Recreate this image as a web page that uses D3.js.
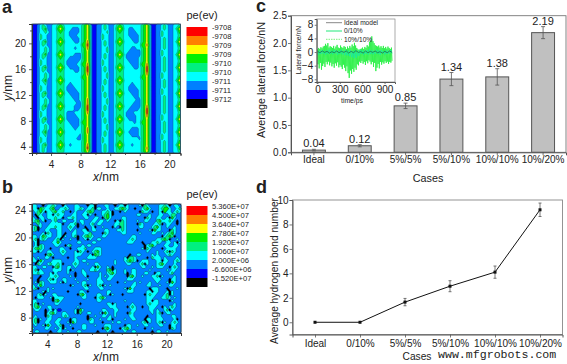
<!DOCTYPE html>
<html>
<head>
<meta charset="utf-8">
<script src="https://cdn.jsdelivr.net/npm/d3@7"></script>
<style>
html, body { margin: 0; padding: 0; background: #fff; }
svg { display: block; }
text { font-family: "Liberation Sans", Arial, sans-serif; fill: #222; }
</style>
</head>
<body>
<script>
const width = 567,
    height = 364;

// contour levels per grid cell, top row first: 0 black ... 8 red
const gridA = [
    "1123432233454 333333345 641122343223454 333333345 64112234322334",
    "1123452233565 333222345 641122343223565 332233345 64112234322346",
    "1123343233454 332222345 641122334223454 332223345 64112243322335",
    "1124332233444 332223345 641122433223444 332222345 64112243322334",
    "1124332233454 333222345 641122433223454 333222345 64112234322335",
    "1123452233565 333322345 741122343223565 333322345 64112234322346",
    "1123432233454 333333355 841122343223454 333333355 74112234322335",
    "1123343233444 333323345 741122334223444 333223345 64112234322334",
    "1123343233454 333333345 641122334223454 332222245 64112243322335",
    "1123452233565 333322245 641122343223565 322222245 64112243322346",
    "1123432233454 332222245 641122343223454 322222345 64112234322335",
    "1124332233444 322222345 641122433223444 332222345 64112234322334",
    "1124332233454 322223355 741122433223454 333222355 74112234322335",
    "1123452233565 332222345 841122343223565 333322345 84112234322346",
    "1123432233454 333322345 841122343223454 333333345 84112234322335",
    "1123343233444 333333345 741122334223444 333333345 74112243322334",
    "1123343233454 333333355 641122334223454 333333355 64112243322335",
    "1123452233565 333333345 641122343223565 333333345 64112234322346",
    "1123342233454 332333345 641122343223454 333233345 64112234322335",
    "1124332233444 322233345 641122433223444 332223345 64112234322334",
    "1124332233454 322223345 641122433223454 332222345 64112243322335",
    "1123452233565 332222345 641122343223565 333222345 64112243322346",
    "1123432233454 333222345 641122343223454 333322345 64112234322335",
    "1123343233444 333322345 741122334223444 333332245 64112234322334",
    "1123343233454 333332245 741122334223454 333322245 64112234322335",
    "1123452233565 333322245 841122343223565 333222245 74112234322346",
    "1123432233454 333322345 841122343223454 332222345 84112234322335",
    "1124332233444 322233345 741122433223444 322233345 84112234322334",
    "1124332233454 322223345 641122433223454 322223345 74112243322335",
    "1123452233565 322222345 641122343223565 332223345 64112243322346",
    "1123432233454 332222355 641122343223454 333323355 64112234322335",
    "1123343233444 333222345 641122334223444 333333345 64112234322334",
    "1123343233454 333323345 741122334223454 333222345 64112234322335",
    "1123452233565 333333345 741122343223565 332222345 64112234322346",
    "1123342233454 333333245 641122343223454 333222345 64112243322335",
    "1124332233444 333332245 641122433223444 333333245 64112243322334",
    "1124332233454 333333345 641122433223454 333333345 64112234322335",
    "1123452233565 332333345 741122343223565 333233345 64112234322346",
    "1123432233454 333333345 841122343223454 333333345 74112234322335",
    "1123432233444 333333345 641122343223444 333333345 64112234322334"
];

const gridB = [
    "3322023343 2203222332 2203302223 3220233032 2223043222 2334302332",
    "3305433452 2334322334 3233403322 3223345432 2022345322 2345532234",
    "2345303345 3342202322 2345422233 4302202322 2220433202 2305332343",
    "2043223303 4332223322 3303202234 5302222222 2233222322 2332234422",
    "3203323334 3302334322 2332233204 5322223322 2222204322 3322305322",
    "3452302234 2233222323 3222332332 3220304322 2232233222 4533343202",
    "2243222333 3302233402 3223423322 2223344322 2204322223 3402332202",
    "3403223334 3322343202 2022302232 2203204322 2223322234 5322322322",
    "3402233222 3322232322 3302332223 3222334322 2202222305 3322204322",
    "2222304322 3320223322 2334222204 3222223322 2223222233 2232345322",
    "3323543322 3303223402 3454322233 2222222222 3322222222 2203454022",
    "3403432223 4032232202 2303223322 2222222223 4322222222 3345402232",
    "2302222233 5322222233 2222332222 2222222233 3222022233 4322332303",
    "2304322223 3220342222 3233222222 2222222222 2222203453 2223322332",
    "3454322022 2332202233 3422233322 2222222222 2222304322 2202333322",
    "3303223322 2343222304 3202345322 2222222222 2222223222 3223404322",
    "2222204532 2232222333 2223054322 2222222220 2233222232 3222343222",
    "3232233202 2222022322 2233332222 2222222304 4322220243 3323222232",
    "3305322233 3322222332 3322222222 2223222345 4302333222 3303322343",
    "2043223433 4302223432 2232233222 2223222233 2223403222 3453222322",
    "3322332204 5322332322 2222305322 3202222222 2222332232 3332203432",
    "3403222233 3322303222 3223343222 4503222322 3322222322 2222323322",
    "3343322303 2222322022 3322222322 3453222302 3322233220 3322234222",
    "2220222334 3222232022 2302222323 2332222204 5322322233 4032222322",
    "2202223403 2233222322 2232223322 3322222233 3222222223 3322203322",
    "2304322333 2303222232 3322223332 2222022322 2323222322 3222305322",
    "3235322222 2222203222 3403223403 2322222222 3322223322 2322233222",
    "3402223232 2222222222 2332222332 2222222305 3222222033 3222022232",
    "2222303222 2222022223 3202222222 3322222233 3222223303 3222303222",
    "2234032233 2222222204 5322223322 3032220222 2222203433 2223403222",
    "2033322303 3332222222 3322203453 2222222222 2222223332 2233432322",
    "3322222204 5322222222 2222223322 2222222322 2222223303 3222203222",
    "3402322223 3222222220 2222222222 3303222222 3222223433 3222222322",
    "3453223322 2222222232 2222222222 2333222203 4322022333 2203234322",
    "2332202303 1122222305 3222222233 2223322222 3322222332 3223403222",
    "2222203453 2233222304 2233222305 3223222204 3222222232 3402332222",
    "2322204322 2234322222 2202232233 2323222223 3222220222 3322223322",
    "3403223322 3322203322 2204322322 3302222322 3322203322 3332222302",
    "3402233223 3222305322 2223322202 2232332222 2222340322 3403223432",
    "2322305322 3402232222 3322232223 3322222033 2232233222 2332203322",
    "3222233223 2303220222 3322222204 5322203453 2222202232 2222204322",
    "2332222022 3322322233 2222220222 3202222322 3322222202 3322322222"
];

const levelColors = ["#000000", "#0000ff", "#0080ff", "#00ffff", "#00f080", "#00f000", "#ffff00", "#ff8000", "#ff0000"];
const legendLabelsA = ["-9708", "-9708", "-9709", "-9709", "-9710", "-9710", "-9711", "-9711", "-9712"];
const legendLabelsB = ["5.360E+07", "4.500E+07", "3.640E+07", "2.780E+07", "1.920E+07", "1.060E+07", "2.000E+06", "-6.600E+06", "-1.520E+07"];

const cases = ["Ideal", "0/10%", "5%/5%", "5%/10%", "10%/10%", "10%/20%"];
const lateralForce = [0.04, 0.12, 0.85, 1.34, 1.38, 2.19];
const lateralError = [0.015, 0.02, 0.05, 0.12, 0.15, 0.11];
const hbondNumber = [0, 0, 1.65, 2.95, 4.1, 9.2];
const hbondError = [0, 0, 0.3, 0.45, 0.5, 0.55];

// inset traces, 0 to 1000 ps
const inset1010 = [
    0.8,-3.6,1.2,-4.8,0.9,-3.2,1.4,-5.2,1.1,-4.1,1.6,-3.4,1.8,
    -4.4,2.4,-2.9,1.9,-3.6,2.6,-2.8,1.3,-3.9,1.7,-3.1,1.5,-4.2,
    1.2,-3.5,1.8,-4.6,1.0,-3.3,1.6,-4.0,2.1,-3.0,1.3,-4.5,1.1,
    -3.8,1.9,-4.3,1.4,-5.0,1.2,-3.7,1.7,-4.6,1.5,-5.6,0.9,-4.2,
    1.6,-6.2,1.1,-7.6,1.8,-5.4,1.3,-6.4,2.2,-5.0,1.7,-5.8,2.7,
    -4.6,1.9,-5.2,1.2,-3.6,0.8,-3.9,0.6,-2.8,0.9,-3.2,1.0,-2.6,
    1.3,-3.4,0.9,-2.9,1.5,-3.8,1.2,-2.7,2.0,-3.3,1.6,-2.4,3.0,
    -2.8,3.4,-3.6,4.6,-2.9,3.2,-4.4,2.6,-3.2,2.0,-5.6,1.8,-4.6,
    1.6,-3.5,1.9,-4.8,1.3,-2.9,1.7,-3.7,1.2,-3.0,1.8,-3.4,1.1,
    -2.7,1.5,-3.2,1.0,-2.8,1.6,-3.5,1.2,-2.9,0.9,-3.1,1.3,-2.6
];
const inset010 = [
    0.5,-0.7,0.4,-0.6,0.6,-0.5,0.3,-0.8,0.5,-0.6,0.7,-0.5,0.4,-0.7,0.6,-0.4,
    0.5,-0.8,0.4,-0.6,0.7,-0.7,0.3,-0.9,0.6,-1.0,0.4,-1.2,0.5,-1.5,0.3,-1.8,
    0.6,-1.6,0.4,-1.1,0.7,-0.6,0.5,-0.8,0.4,-0.5,0.6,-0.7,0.8,-0.6,0.5,-0.7,
    0.4,-0.5,0.7,-0.6,0.5,-0.8,0.6,-0.4,0.3,-0.7,0.5,-0.6,0.4,-0.5,0.6,-0.4
];
const insetIdeal = [
    0.2,-0.2,0.3,-0.1,0.2,-0.3,0.1,-0.2,0.3,-0.2,0.2,-0.1,0.3,-0.3,0.2,-0.2,
    0.4,-0.1,0.1,-0.3,0.3,-0.2,0.2,-0.1,0.3,-0.2,0.1,-0.3,0.2,-0.2,0.3,-0.1
];
const insetLegend = ["Ideal model", "0/10%", "10%/10%"];

const svg = d3.select('body').append('svg')
    .attr('width', width)
    .attr('height', height);

function ticks(g, axis, tickClr) {
    g.call(axis);
    g.selectAll('path.domain').attr('stroke', tickClr);
    g.selectAll('line').attr('stroke', tickClr).attr('stroke-width', 0.8);
    g.selectAll('text').attr('fill', '#222').attr('font-family', '"Liberation Sans", Arial, sans-serif');
}

function contourPanel(rows, smooth, edgeWidth, x, y, xMajor, xMinor, yMajor, yMinor) {
    const clean = rows.map(r => r.replace(/ /g, ''));
    const nx = clean[0].length,
        ny = clean.length;
    const values = clean.join('').split('').map(Number);
    const gx = d3.scaleLinear().domain([0, nx]).range(x.range());
    const gy = d3.scaleLinear().domain([0, ny]).range(y.range().slice().reverse());
    const path = d3.geoPath(d3.geoTransform({
        point(px, py) { this.stream.point(gx(px), gy(py)); }
    }));
    const contours = d3.contours()
        .size([nx, ny])
        .smooth(smooth)
        .thresholds(d3.range(0.5, 8, 1))(values);

    // the source is a soft jpeg, so the contour field gets a very light blur
    const g = svg.append('g').style('filter', 'blur(0.4px)');
    g.append('rect')
        .attr('x', x.range()[0])
        .attr('y', y.range()[1])
        .attr('width', x.range()[1] - x.range()[0])
        .attr('height', y.range()[0] - y.range()[1])
        .attr('fill', levelColors[0]);
    g.selectAll('path.level')
        .data(contours)
        .enter()
        .append('path')
        .attr('class', 'level')
        .attr('d', path)
        .attr('fill', (d, i) => levelColors[i + 1])
        .attr('stroke', '#0a2a3a')
        .attr('stroke-width', edgeWidth)
        .attr('stroke-opacity', 0.75);
    svg.append('rect')
        .attr('x', x.range()[0])
        .attr('y', y.range()[1])
        .attr('width', x.range()[1] - x.range()[0])
        .attr('height', y.range()[0] - y.range()[1])
        .attr('fill', 'none')
        .attr('stroke', '#35506a')
        .attr('stroke-width', 0.8);

    const bottom = y.range()[0],
        left = x.range()[0];
    ticks(svg.append('g').attr('transform', 'translate(0,' + bottom + ')').attr('font-size', 12),
        d3.axisBottom(x).tickValues(xMajor).tickSize(3).tickPadding(5), '#333');
    ticks(svg.append('g').attr('transform', 'translate(0,' + bottom + ')'),
        d3.axisBottom(x).tickValues(xMinor).tickSize(2).tickFormat(''), '#333');
    ticks(svg.append('g').attr('transform', 'translate(' + left + ',0)').attr('font-size', 12),
        d3.axisLeft(y).tickValues(yMajor).tickSize(3).tickPadding(3), '#333');
    ticks(svg.append('g').attr('transform', 'translate(' + left + ',0)'),
        d3.axisLeft(y).tickValues(yMinor).tickSize(2).tickFormat(''), '#333');
}

function colorLegend(labels, top) {
    const cellH = 9,
        left = 186.5,
        w = 21;
    const colors = levelColors.slice().reverse();
    svg.append('text').attr('x', left).attr('y', top - 8).attr('font-size', 11).text('pe(ev)');
    svg.selectAll(null)
        .data(colors)
        .enter()
        .append('rect')
        .attr('x', left)
        .attr('y', (d, i) => top + i * cellH)
        .attr('width', w)
        .attr('height', cellH)
        .attr('fill', d => d);
    svg.selectAll(null)
        .data(labels)
        .enter()
        .append('text')
        .attr('x', left + 25.5)
        .attr('y', (d, i) => top + i * cellH + 2.5)
        .attr('font-size', 7.6)
        .text(d => d);
}

function label(txt, px, py, size, rotate) {
    const t = svg.append('text')
        .attr('text-anchor', 'middle')
        .attr('font-size', size)
        .attr('transform', 'translate(' + px + ',' + py + ')' + (rotate ? ' rotate(-90)' : ''));
    return t.text(txt);
}

function italicUnit(axisName, px, py, rotate) {
    const t = label('', px, py, 12, rotate);
    t.append('tspan').attr('font-style', 'italic').text(axisName);
    t.append('tspan').text('/nm');
}

function panelTag(txt, px, py) {
    svg.append('text')
        .attr('x', px)
        .attr('y', py)
        .attr('font-size', 18)
        .attr('font-weight', 'bold')
        .attr('fill', '#000')
        .text(txt);
}

function renderPanelA() {
    const x = d3.scaleLinear().domain([1.43, 21.5]).range([32, 180.5]);
    const y = d3.scaleLinear().domain([3.02, 23]).range([153, 24]);
    contourPanel(gridA, true, 0.35, x, y, [4, 8, 12, 16, 20], [2, 6, 10, 14, 18], [4, 8, 12, 16, 20], [6, 10, 14, 18, 22]);
    colorLegend(legendLabelsA, 27);
    italicUnit('x', 106, 181, false);
    italicUnit('y', 12, 88, true);
    panelTag('a', 2, 13);
}

function renderPanelB() {
    const x = d3.scaleLinear().domain([1.94, 21.95]).range([32, 181]);
    const y = d3.scaleLinear().domain([5.7, 25]).range([333, 204]);
    contourPanel(gridB, false, 0.55, x, y, [4, 8, 12, 16, 20], [2, 6, 10, 14, 18], [8, 12, 16, 20, 24], [6, 10, 14, 18, 22]);
    colorLegend(legendLabelsB, 206);
    italicUnit('x', 106, 361, false);
    italicUnit('y', 12, 270, true);
    panelTag('b', 2, 193);
}

function frame(x0, x1, y0, y1, clr, sw) {
    svg.append('rect')
        .attr('x', x0)
        .attr('y', y1)
        .attr('width', x1 - x0)
        .attr('height', y0 - y1)
        .attr('fill', 'none')
        .attr('stroke', clr)
        .attr('stroke-width', sw);
}

function errorBars(data, cx, y, capW) {
    const g = svg.append('g').attr('stroke', '#555').attr('stroke-width', 0.8);
    data.filter(d => d.e > 0).forEach(d => {
        g.append('line').attr('x1', cx(d)).attr('x2', cx(d)).attr('y1', y(d.v - d.e)).attr('y2', y(d.v + d.e));
        g.append('line').attr('x1', cx(d) - capW).attr('x2', cx(d) + capW).attr('y1', y(d.v - d.e)).attr('y2', y(d.v - d.e));
        g.append('line').attr('x1', cx(d) - capW).attr('x2', cx(d) + capW).attr('y1', y(d.v + d.e)).attr('y2', y(d.v + d.e));
    });
}

function renderPanelC() {
    const x = d3.scaleBand().domain(cases).range([291, 566]).paddingInner(0.5).paddingOuter(0.25);
    const y = d3.scaleLinear().domain([0, 2.5]).range([152.3, 15.7]);
    const data = cases.map((c, i) => ({ c: c, v: lateralForce[i], e: lateralError[i] }));

    svg.selectAll('rect.bar')
        .data(data)
        .enter()
        .append('rect')
        .attr('class', 'bar')
        .attr('x', d => x(d.c))
        .attr('y', d => y(d.v))
        .attr('width', x.bandwidth())
        .attr('height', d => y(0) - y(d.v))
        .attr('fill', '#c0c0c0')
        .attr('stroke', '#555')
        .attr('stroke-width', 1);

    const cx = d => x(d.c) + x.bandwidth() / 2;
    errorBars(data, cx, y, 2);

    svg.selectAll('text.val')
        .data(data)
        .enter()
        .append('text')
        .attr('class', 'val')
        .attr('text-anchor', 'middle')
        .attr('font-size', 11)
        .attr('x', cx)
        .attr('y', d => y(d.v + d.e) - 1.8)
        .text(d => d.v.toFixed(2));

    frame(291, 566, 152.3, 15.7, '#777', 0.9);
    ticks(svg.append('g').attr('transform', 'translate(0,152.3)').attr('font-size', 10.8),
        d3.axisBottom(x).tickSize(3).tickPadding(1), '#555');
    ticks(svg.append('g').attr('transform', 'translate(291,0)').attr('font-size', 11),
        d3.axisLeft(y).tickValues([0, 0.5, 1, 1.5, 2, 2.5]).tickFormat(d3.format('.1f')).tickSize(3).tickPadding(1), '#555');
    label('Average lateral force/nN', 265, 80, 10.8, true);
    label('Cases', 428, 182, 10.8, false);
    panelTag('c', 256, 12);
    renderInset();
}

function renderInset() {
    const x = d3.scaleLinear().domain([-10, 1040]).range([316.7, 395]);
    const y = d3.scaleLinear().domain([-8.8, 9.7]).range([82, 19]);
    const trace = (vals, clr, sw) => {
        const step = 1000 / (vals.length - 1);
        const line = d3.line().x((d, i) => x(i * step)).y(d => y(d));
        svg.append('path')
            .attr('d', line(vals))
            .attr('fill', 'none')
            .attr('stroke', clr)
            .attr('stroke-width', sw);
    };
    trace(inset1010, '#2cf04a', 0.9);
    trace(inset010, '#10e6b0', 0.7);
    trace(insetIdeal, '#222', 0.5);

    frame(316.7, 395, 82, 19, '#888', 0.7);
    ticks(svg.append('g').attr('transform', 'translate(0,82)').attr('font-size', 6.8),
        d3.axisBottom(x).tickValues([0, 300, 600, 900]).tickSize(2).tickPadding(2), '#555');
    ticks(svg.append('g').attr('transform', 'translate(316.7,0)').attr('font-size', 6.8),
        d3.axisLeft(y).tickValues([-8, -4, 0, 4, 8]).tickSize(2).tickPadding(1.5), '#555');

    const legendClr = ['#888', '#22e87a', '#7cf07c'];
    insetLegend.forEach((name, i) => {
        const ly = 22.7 + i * 8.3;
        svg.append('line')
            .attr('x1', 326).attr('x2', 342)
            .attr('y1', ly).attr('y2', ly)
            .attr('stroke', legendClr[i])
            .attr('stroke-width', 1)
            .attr('stroke-dasharray', i === 2 ? '1.5 1' : null);
        svg.append('text').attr('x', 344).attr('y', ly + 2.3).attr('font-size', 6.6).text(name);
    });
    label('Lateral force/nN', 301, 50, 6.8, true);
    label('time/ps', 352, 103, 6.8, false);
}

function renderPanelD() {
    const x = d3.scalePoint().domain(cases).range([292.5, 562.5]).padding(0.5);
    const y = d3.scaleLinear().domain([-1, 10]).range([334.5, 200]);
    const data = cases.map((c, i) => ({ c: c, v: hbondNumber[i], e: hbondError[i] }));
    const cx = d => x(d.c);

    svg.append('path')
        .attr('d', d3.line().x(cx).y(d => y(d.v))(data))
        .attr('fill', 'none')
        .attr('stroke', '#111')
        .attr('stroke-width', 1);
    errorBars(data, cx, y, 1.5);
    svg.selectAll('rect.pt')
        .data(data)
        .enter()
        .append('rect')
        .attr('class', 'pt')
        .attr('x', d => cx(d) - 1.5)
        .attr('y', d => y(d.v) - 1.5)
        .attr('width', 3)
        .attr('height', 3)
        .attr('fill', '#111');

    frame(292.5, 562.5, 334.5, 200, '#888', 0.9);
    ticks(svg.append('g').attr('transform', 'translate(0,334.5)').attr('font-size', 9.9),
        d3.axisBottom(x).tickSize(3).tickPadding(2), '#555');
    ticks(svg.append('g').attr('transform', 'translate(292.5,0)').attr('font-size', 11),
        d3.axisLeft(y).tickValues([0, 2, 4, 6, 8, 10]).tickSize(3).tickPadding(1), '#555');
    label('Average hydrogen bond number', 278, 271, 10.2, true);
    label('Cases', 417, 360, 10.2, false);
    panelTag('d', 256, 193);
    svg.append('text')
        .attr('x', 438)
        .attr('y', 358)
        .attr('font-size', 11.6)
        .style('font-family', '"Liberation Mono", monospace')
        .text('www.mfgrobots.com');
}

renderPanelA();
renderPanelB();
renderPanelC();
renderPanelD();
</script>
</body>
</html>
